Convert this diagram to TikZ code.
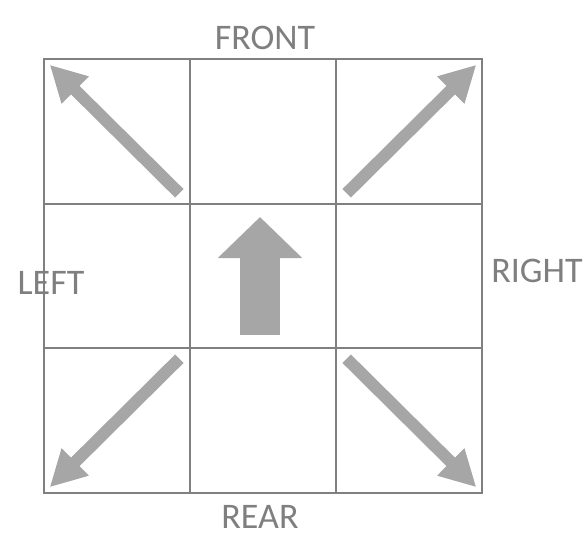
\documentclass[tikz,border=0pt]{standalone}
\usepackage{fontspec}
\setmainfont{Carlito}
\usetikzlibrary{arrows.meta, positioning, calc}
\definecolor{gridgray}{HTML}{808080}
\definecolor{arrowgray}{HTML}{A6A6A6}
\definecolor{textgray}{HTML}{7F7F7F}
\tikzset{
    cell/.style={draw=gridgray, line width=2pt, minimum width=146pt, minimum height=144.7pt, inner sep=0pt, outer sep=0pt},
    side/.style={text=textgray, font=\fontsize{36}{43}\selectfont, inner sep=0pt, anchor=base},
    % thin diagonal arrows in the corner cells
    diag/.style={draw=arrowgray, line width=12pt, -{Triangle[length=36pt, width=36pt]}, shorten <=15pt, shorten >=8pt},
    fwd/.style={draw=arrowgray, line width=40pt, -{Triangle[length=41pt, width=82pt]}},
}

\begin{document}
\begin{tikzpicture}[x=1pt, y=-1pt]
    \useasboundingbox (0,0) rectangle (588,536);

    % 3x3 grid
    \foreach \r/\y in {1/131.5, 2/276, 3/420.5}
        \foreach \c/\x in {1/117, 2/263, 3/409}
            \node[cell] (c-\r-\c) at (\x,\y) {};

    \node[side] (front) at (265,49)  {FRONT};
    \node[side] (left)  at (51,294)  {LEFT};
    \node[side] (right) at (537,282) {RIGHT};
    \node[side] (rear)  at (260,528.5) {REAR};

    % corner arrows
    \draw[diag] (c-1-1.south east) -- (c-1-1.north west);
    \draw[diag] (c-1-3.south west) -- (c-1-3.north east);
    \draw[diag] (c-3-1.north east) -- (c-3-1.south west);
    \draw[diag] (c-3-3.north west) -- (c-3-3.south east);

    % forward arrow
    \coordinate (fwdtail) at ($(c-2-2.center)+(-3,59)$);
    \coordinate (fwdtip)  at ($(c-2-2.center)+(-3,-59)$);
    \draw[fwd] (fwdtail) -- (fwdtip);
\end{tikzpicture}
\end{document}
